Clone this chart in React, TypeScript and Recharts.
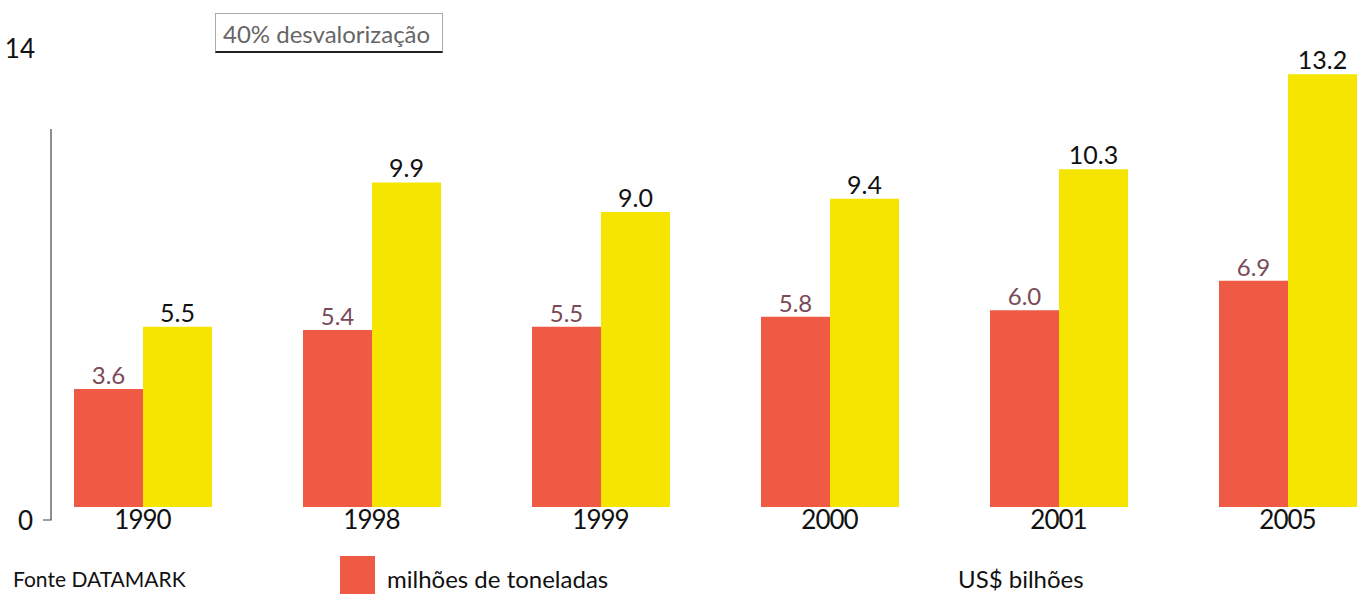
import { Bar, BarChart, LabelList, Legend, XAxis, YAxis } from 'recharts'

const years = ['1990', '1998', '1999', '2000', '2001', '2005']
const toneladas = [3.6, 5.4, 5.5, 5.8, 6.0, 6.9]
const bilhoes = [5.5, 9.9, 9.0, 9.4, 10.3, 13.2]
const yTicks = [0, 14]

const RED = '#EE5A44'
const YELLOW = '#F6E500'
const FONT = 'Lato, "Noto Sans", sans-serif'

const data = years.map((year, i) => ({ year, toneladas: toneladas[i], bilhoes: bilhoes[i] }))

function YTick({ x, y, payload }: any) {
  if (payload.value === 0) {
    return (
      <g>
        <text x={x + 5} y={y + 13} textAnchor="end" dominantBaseline="central" fontSize={26} fill="#111">
          {payload.value}
        </text>
        {/* axis stub, as drawn in the original */}
        <path d={`M${x + 15} ${y + 13}H${x + 23}V${y + 13 - 391}`} stroke="#444" strokeWidth={1.2} fill="none" />
      </g>
    )
  }
  return (
    <text x={x + 7} y={y} textAnchor="end" dominantBaseline="central" fontSize={26} fill="#111">
      {payload.value}
    </text>
  )
}

function XTick({ x, y, payload }: any) {
  return (
    <text x={x} y={y} dy="0.78em" textAnchor="middle" fontSize={26} letterSpacing={-1} fill="#111">
      {payload.value}
    </text>
  )
}

// legend entries sit where the print had them
const legendLeft: Record<string, number> = { toneladas: 340, bilhoes: 958 }

function LegendContent({ payload }: any) {
  return (
    <div style={{ position: 'relative', height: 38, fontFamily: FONT, fontSize: 24, color: '#111' }}>
      {(payload || []).map((entry: any) => (
        <div
          key={entry.value}
          style={{ position: 'absolute', left: legendLeft[entry.dataKey], top: 0, display: 'flex', alignItems: 'center', height: 38 }}
        >
          {entry.dataKey === 'toneladas' && (
            <span style={{ width: 35, height: 38, background: entry.color, marginRight: 12, display: 'inline-block' }} />
          )}
          <span style={{ position: 'relative', top: 3 }}>{entry.value}</span>
        </div>
      ))}
    </div>
  )
}

export default function App() {
  return (
    <div style={{ position: 'absolute', left: 0, top: 0, width: 1362, height: 594, overflow: 'hidden', background: '#fff', fontFamily: FONT }}>
      <BarChart width={1402} height={594} data={data} margin={{ top: 48, right: 0, bottom: 47, left: 0 }} barSize={69} barGap={0}>
        <XAxis dataKey="year" axisLine={false} tickLine={false} tickSize={0} tickMargin={2} height={40} tick={<XTick />} interval={0} />
        <YAxis domain={[0, 14]} ticks={yTicks} width={28} axisLine={false} tickLine={false} tickSize={0} tickMargin={0} tick={<YTick />} />
        <Legend verticalAlign="middle" layout="horizontal" wrapperStyle={{ top: 556, left: 0, width: 1362, height: 38 }} content={<LegendContent />} />
        <Bar dataKey="toneladas" name="milhões de toneladas" fill={RED} isAnimationActive={false}>
          <LabelList dataKey="toneladas" position="top" offset={5} fontSize={24} fill="#7a4a58" formatter={(v: any) => Number(v).toFixed(1)} />
        </Bar>
        <Bar dataKey="bilhoes" name="US$ bilhões" fill={YELLOW} isAnimationActive={false}>
          <LabelList dataKey="bilhoes" position="top" offset={5} fontSize={25} fill="#111" formatter={(v: any) => Number(v).toFixed(1)} />
        </Bar>
      </BarChart>

      <div
        style={{
          position: 'absolute',
          left: 215,
          top: 13,
          width: 228,
          height: 40,
          borderTop: '1px solid #aaa',
          borderLeft: '1px solid #aaa',
          borderRight: '1px solid #aaa',
          borderBottom: '2px solid #222',
          color: '#666',
          fontSize: 24,
          lineHeight: '40px',
          paddingLeft: 7,
          boxSizing: 'border-box',
          whiteSpace: 'nowrap',
        }}
      >
        40% desvalorização
      </div>

      <div style={{ position: 'absolute', left: 13, top: 566, fontSize: 21, lineHeight: '25px', color: '#111', whiteSpace: 'nowrap' }}>
        Fonte DATAMARK
      </div>
    </div>
  )
}
